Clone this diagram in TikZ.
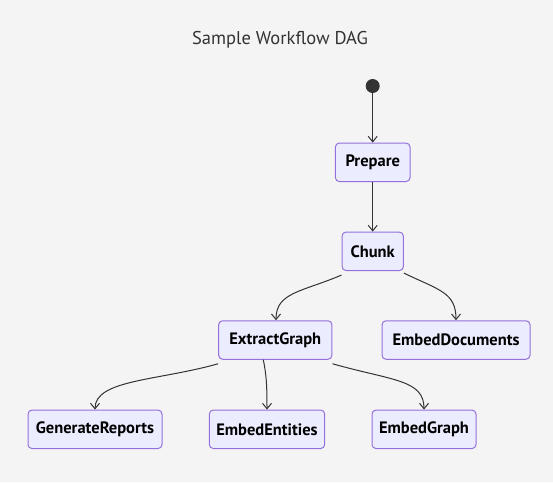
\documentclass[tikz,border=0pt]{standalone}
\usepackage{fontspec}
\setmainfont{PT Sans}
\usetikzlibrary{arrows.meta}
\definecolor{bgc}{HTML}{F4F4F4}
\definecolor{nodefill}{HTML}{ECECFF}
\definecolor{nodeline}{HTML}{9370DB}
\definecolor{ink}{HTML}{333333}
\tikzset{
  wfbox/.style={draw=nodeline, fill=nodefill, line width=1pt, rounded corners=4pt,
    minimum height=38.5pt, inner sep=0pt, text=black, font=\fontsize{16.5}{19}\selectfont\bfseries},
  wfedge/.style={draw=ink, line width=1pt, -{Straight Barb[length=5.5pt,width=9pt,line width=1pt]}}
}
\begin{document}
\begin{tikzpicture}[x=1pt,y=-1pt]
\fill[bgc] (0,0) rectangle (553,482);
\useasboundingbox (0,0) rectangle (553,482);
\node[text=ink, font=\fontsize{18.5}{22}\selectfont] (title) at (280,40) {Sample Workflow DAG};
\node[circle, fill=ink, minimum size=14pt, inner sep=0pt] (start) at (372.7,86) {};
\node[wfbox, minimum width=74.7pt] (prepare) at (372.7,162.3) {Prepare};
\node[wfbox, minimum width=61.3pt] (chunk) at (372.7,251.3) {Chunk};
\node[wfbox, minimum width=113.3pt] (extract) at (275.3,340) {ExtractGraph};
\node[wfbox, minimum width=148pt] (embdocs) at (456,340) {EmbedDocuments};
\node[wfbox, minimum width=134pt] (genrep) at (95,429.3) {GenerateReports};
\node[wfbox, minimum width=115.3pt] (embent) at (267,429.3) {EmbedEntities};
\node[wfbox, minimum width=104pt] (embgraph) at (424,429.3) {EmbedGraph};
\draw[wfedge] (start) -- (prepare);
\draw[wfedge] (prepare) -- (chunk);
\draw[wfedge] ([yshift=-4pt]chunk.south west) .. controls +(-40,17) and +(0,-28) .. ([xshift=0.7pt]extract.north);
\draw[wfedge] ([yshift=-2pt]chunk.south east) .. controls +(35,17) and +(0,-28) .. (embdocs.north);
\draw[wfedge] ([yshift=-4pt]extract.south west) .. controls +(-60,17) and +(0,-30) .. (genrep.north);
\draw[wfedge] ([xshift=-12pt]extract.south) .. controls +(3,15) and +(0,-25) .. (embent.north);
\draw[wfedge] ([yshift=-4pt]extract.south east) .. controls +(60,17) and +(0,-30) .. (embgraph.north);
\end{tikzpicture}
\end{document}
